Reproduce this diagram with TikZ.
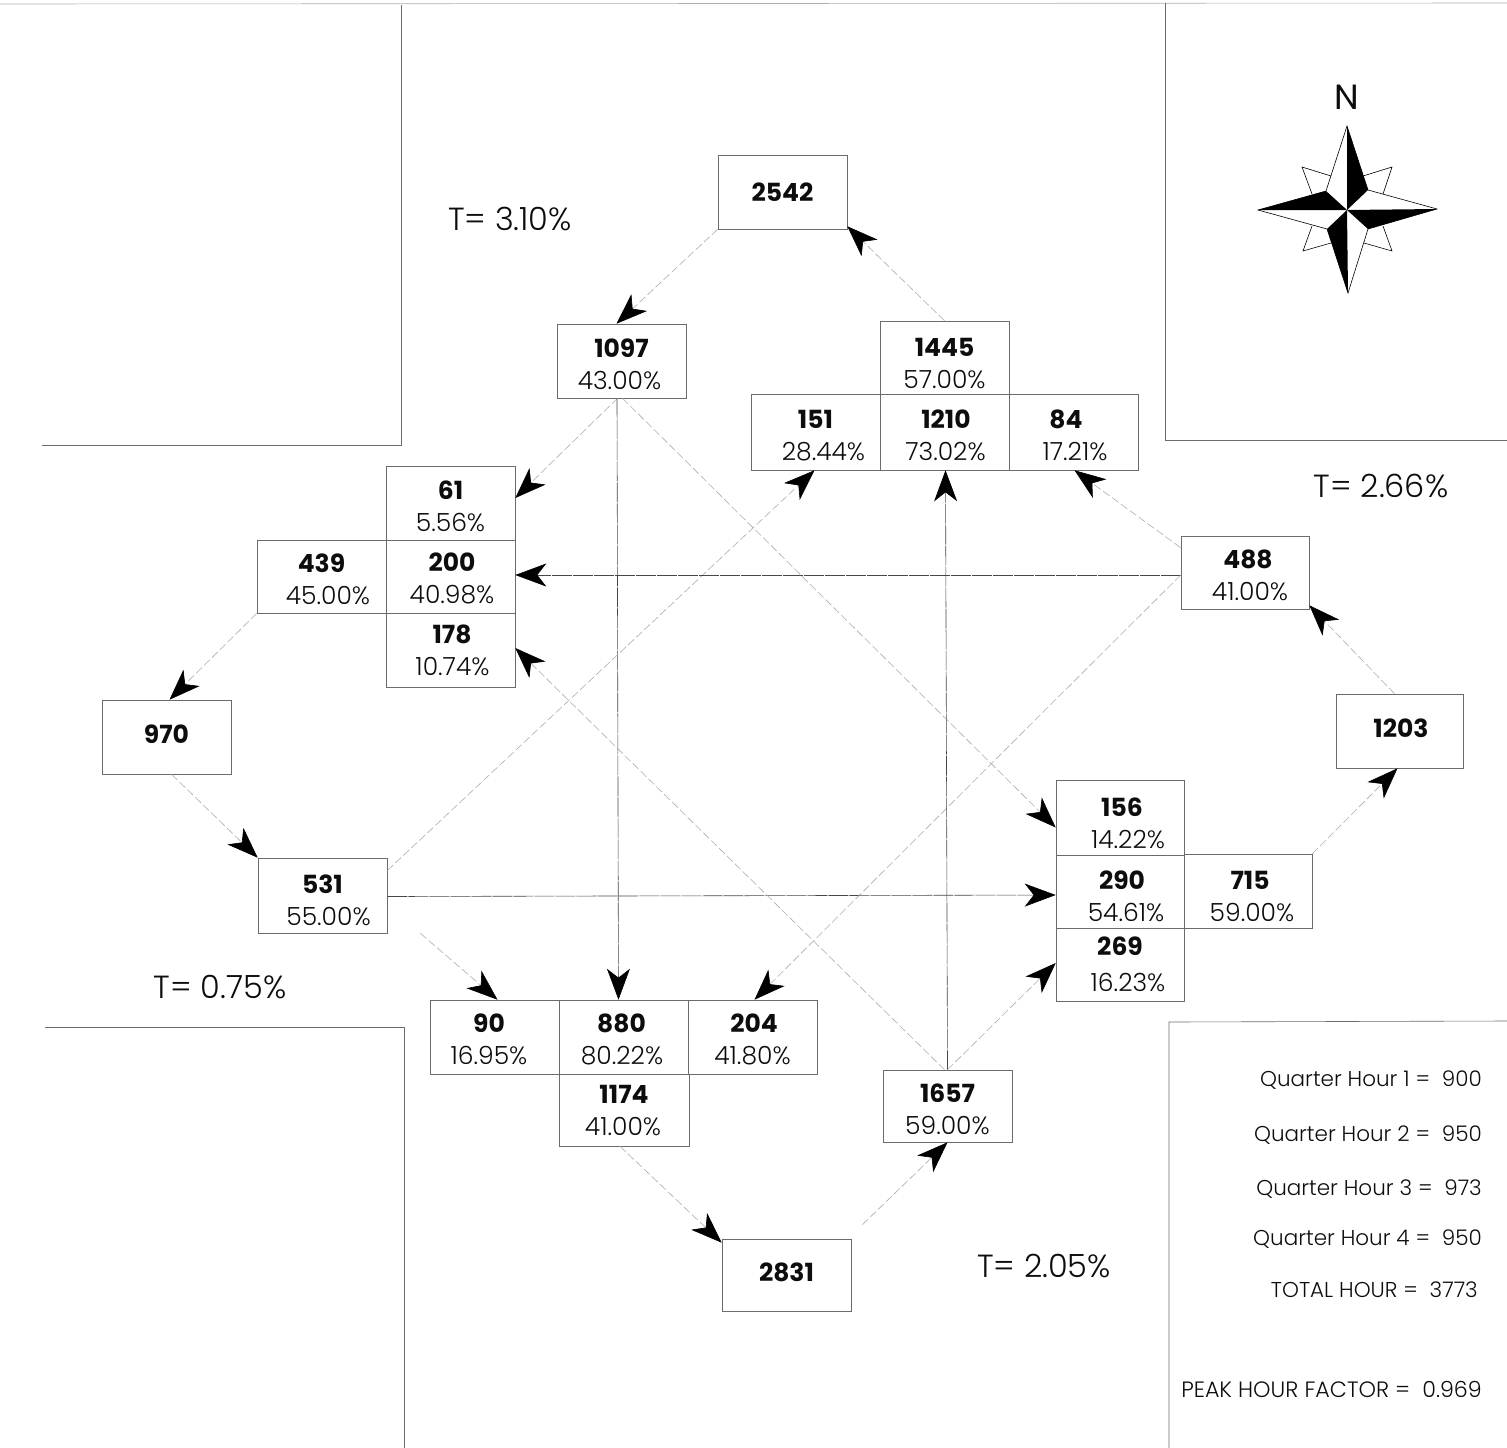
\documentclass[tikz,border=0pt]{standalone}
\usepackage{fontspec}
\setmainfont{Poppins}[UprightFont=* Light,BoldFont=* Bold]
\newfontfamily\midfont{Poppins}
\usetikzlibrary{arrows.meta}
\definecolor{ink}{gray}{0.05}
\definecolor{boxline}{gray}{0.42}
\definecolor{streetline}{gray}{0.42}
\definecolor{faint}{gray}{0.68}
\definecolor{solidflow}{gray}{0.28}
\newcommand{\vol}[1]{{\fontsize{25}{25}\selectfont\bfseries #1}}
\newcommand{\dn}[1]{\rule{0pt}{\dimexpr 17.5pt+#1pt+#1pt\relax}}
\newcommand{\up}[1]{\rule[-#1pt]{0pt}{#1pt}}
\tikzset{
  tbox/.style={draw=boxline,line width=0.6pt,inner sep=0pt,align=center,text=ink,font=\fontsize{25}{32}\selectfont,minimum width=129pt,minimum height=74pt},
  flow/.style={draw=faint,line width=0.6pt,dash pattern=on 8pt off 3pt,-{Stealth[length=31pt,width=23pt,inset=9pt,color=black]}},
  flowdark/.style={flow,draw=solidflow,dash pattern=on 20pt off 1pt},
  street/.style={draw=streetline,line width=0.6pt},
  plain/.style={text=ink,inner sep=0pt},
  tlabel/.style={plain,font=\fontsize{32}{32}\selectfont},
  legend/.style={plain,anchor=east,font=\fontsize{21.5}{21.5}\selectfont},
}
\begin{document}
\begin{tikzpicture}[x=1pt,y=-1pt]
\useasboundingbox (0,0) rectangle (1507,1448);
% streets
\draw[street,draw=faint] (0,4) -- (1507,3);
\draw[street] (401,5) -- (401,445) -- (42,445);
\draw[street] (1165,3) -- (1165,440) -- (1507,440);
\draw[street] (45,1027) -- (404,1027) -- (404,1448);
\draw[street] (1507,1021) -- (1169,1022) -- (1169,1448);
% boxes
\node[tbox] (n2542) at (782.5,192) {\vol{2542}};
\node[tbox] (n1097) at (621.5,361) {\dn{4}\vol{1097}\\43.00\%\hspace*{4pt}};
\node[tbox,minimum height=73pt] (n1445) at (944.5,357.5) {\dn{6}\vol{1445}\\57.00\%};
\node[tbox,minimum height=76pt] (n151) at (815.5,432) {\dn{4}\vol{151}\\\hspace*{16pt}28.44\%};
\node[tbox,minimum height=76pt] (n1210) at (944.5,432) {\dn{4}\hspace*{3pt}\vol{1210}\\\hspace*{2pt}73.02\%};
\node[tbox,minimum height=76pt] (n84) at (1073.5,432) {\dn{4}\vol{84}\hspace*{15pt}\\\hspace*{3pt}17.21\%};
\node[tbox] (n61) at (450.5,503) {\dn{4}\vol{61}\\5.56\%};
\node[tbox,minimum height=73pt] (n200) at (450.5,576.5) {\dn{3}\hspace*{3pt}\vol{200}\\\hspace*{3pt}40.98\%};
\node[tbox] (n178) at (450.5,650) {\dn{1}\hspace*{3pt}\vol{178}\\\hspace*{4pt}10.74\%};
\node[tbox,minimum height=73pt] (n439) at (321.5,576.5) {\dn{3}\vol{439}\\\hspace*{13pt}45.00\%};
\node[tbox] (n970) at (166.5,737) {\vol{970}\up{6}};
\node[tbox,minimum height=75pt] (n531) at (322.5,895.5) {\dn{5}\vol{531}\\\hspace*{12pt}55.00\%};
\node[tbox,minimum height=73pt,minimum width=128pt] (n488) at (1245,572.5) {\dn{3}\hspace*{6pt}\vol{488}\\\hspace*{10pt}41.00\%};
\node[tbox,minimum width=127pt] (n1203) at (1399.5,731) {\hspace*{3pt}\vol{1203}\up{6}};
\node[tbox,minimum height=75pt,minimum width=128pt] (n156) at (1120,817.5) {\dn{6}\hspace*{4pt}\vol{156}\\\hspace*{16pt}14.22\%};
\node[tbox,minimum height=73pt,minimum width=128pt] (n290) at (1120,891.5) {\dn{5}\hspace*{4pt}\vol{290}\\\hspace*{12pt}54.61\%};
\node[tbox,minimum height=73pt,minimum width=128pt] (n269) at (1120,964.5) {\vol{269}\\[4pt]\hspace*{16pt}16.23\%};
\node[tbox,minimum width=128pt] (n715) at (1248,891) {\dn{6}\hspace*{4pt}\vol{715}\\\hspace*{8pt}59.00\%};
\node[tbox] (n90) at (494.5,1037) {\dn{3}\vol{90}\hspace*{11pt}\\16.95\%\hspace*{11pt}};
\node[tbox] (n880) at (623.5,1037) {\dn{3}\hspace*{-4pt}\vol{880}\\80.22\%\hspace*{3pt}};
\node[tbox] (n204) at (752.5,1037) {\dn{3}\hspace*{3pt}\vol{204}\\41.80\%};
\node[tbox,minimum height=72pt,minimum width=130pt] (n1174) at (624,1110) {\dn{1}\vol{1174}\\41.00\%\hspace*{2pt}};
\node[tbox,minimum height=72pt] (n1657) at (947.5,1106) {\dn{4}\vol{1657}\\59.00\%};
\node[tbox,minimum height=72pt] (n2831) at (786.5,1275) {\vol{2831}\up{6}};
% connectors
\draw[flow] (n2542.south west) -- ([xshift=-5pt]n1097.north);
\draw[flow] (n1445.north) -- ([yshift=3pt]n2542.south east);
\draw[flow] ([xshift=-4pt]n1097.south) -- ([yshift=5pt]n61.east);
\draw[flowdark] ([xshift=-4.5pt]n1097.south) -- ([xshift=-5pt]n880.north);
\draw[flow] ([xshift=1pt]n1097.south) -- ([yshift=-10pt]n156.west);
\draw[flow] (n439.south west) -- ([xshift=3pt]n970.north);
\draw[flow] ([xshift=5pt]n970.south) -- (n531.north west);
\draw[flow] ([yshift=25pt]n531.east) -- ([xshift=-1pt]n151.south);
\draw[flowdark] ([yshift=-1pt]n531.east) -- ([yshift=-3.5pt]n290.west);
\draw[flow] ([xshift=33pt]n531.south east) -- ([xshift=3pt]n90.north);
\draw[flowdark] ([yshift=-2.5pt]n488.west) -- ([yshift=1.5pt]n200.east);
\draw[flow] ([yshift=-2.5pt]n488.west) -- ([xshift=2pt]n204.north);
\draw[flow] ([yshift=-12pt]n488.north west) -- ([xshift=1pt]n84.south);
\draw[flow] ([xshift=-5pt]n1203.north) -- ([yshift=4pt]n488.south east);
\draw[flow] (n715.north east) -- ([xshift=-2pt]n1203.south);
\draw[flowdark] ([xshift=0pt]n1657.north) -- ([xshift=1pt]n1210.south);
\draw[flow] ([xshift=-3pt]n1657.north) -- ([yshift=2pt]n178.east);
\draw[flow] (n1657.north) -- ([yshift=1.5pt]n269.west);
\draw[flow] ([xshift=-4pt]n1174.south) -- ([yshift=-4pt]n2831.north west);
\draw[flow] ([xshift=11pt,yshift=14pt]n2831.north east) -- (n1657.south);
% labels
\node[tlabel] (t1) at (510,219) {T= 3.10\%};
\node[tlabel] (t2) at (1381,486) {T= 2.66\%};
\node[tlabel] (t3) at (220,987) {T= 0.75\%};
\node[tlabel] (t4) at (1044,1266) {T= 2.05\%};
\node[legend] (q1) at (1482,1080) {Quarter Hour 1 = \ 900};
\node[legend] (q2) at (1482,1135) {Quarter Hour 2 = \ 950};
\node[legend] (q3) at (1482,1189) {Quarter Hour 3 = \ 973};
\node[legend] (q4) at (1482,1239) {Quarter Hour 4 = \ 950};
\node[legend] (q5) at (1478,1290) {TOTAL HOUR = \ 3773};
\node[legend,font=\fontsize{22.2}{22.2}\selectfont] (q6) at (1482,1389) {PEAK HOUR FACTOR = \ 0.969};
% compass
\node[plain,font=\fontsize{35}{35}\selectfont\midfont] (north) at (1347,97) {N};
\begin{scope}[draw=black,line width=0.6pt,line join=miter]
\draw[fill=white] (1363,176) -- (1392,167) -- (1383,194);
\draw[fill=white] (1331,176) -- (1302,167) -- (1312,194);
\draw[fill=white] (1312,226) -- (1303,251) -- (1331,243);
\draw[fill=white] (1383,226) -- (1392,251) -- (1364,243);
\draw[fill=white] (1347,126) -- (1368,190) -- (1437,209) -- (1368,229) -- (1348,293) -- (1327,229) -- (1258,210) -- (1326,191) -- cycle;
\fill[black] (1347,126) -- (1368,190) -- (1347,210) -- cycle;
\fill[black] (1258,210) -- (1326,191) -- (1347,210) -- cycle;
\fill[black] (1437,209) -- (1368,229) -- (1347,210) -- cycle;
\fill[black] (1348,293) -- (1327,229) -- (1347,210) -- cycle;
\end{scope}
\end{tikzpicture}
\end{document}
